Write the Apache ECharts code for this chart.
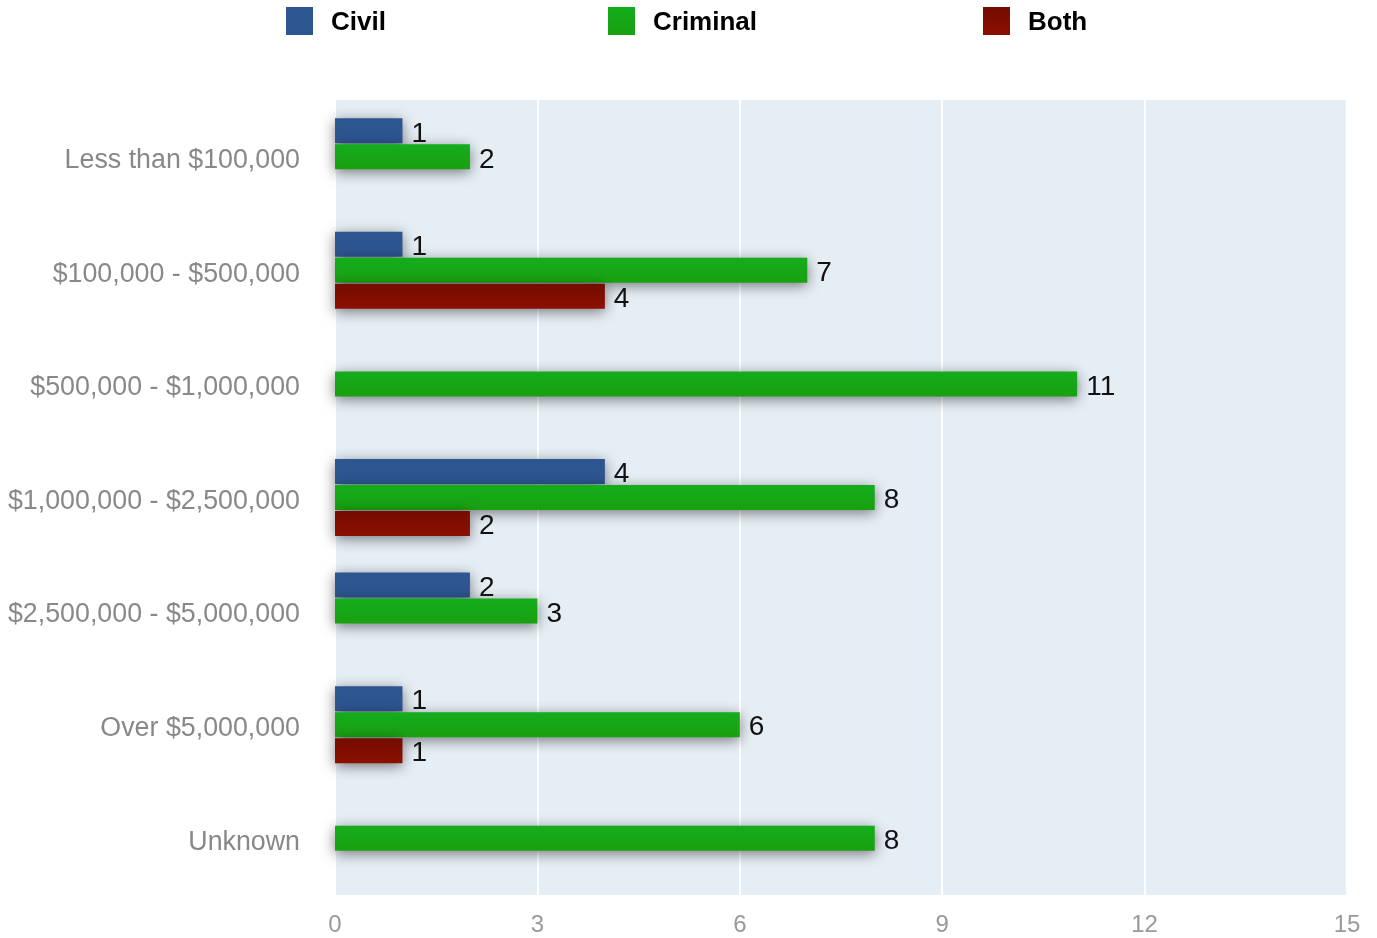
<!DOCTYPE html>
<html>
<head>
<meta charset="utf-8">
<script src="https://cdn.jsdelivr.net/npm/echarts@6/dist/echarts.min.js"></script>
<style>
  html, body { margin: 0; padding: 0; background: #fff; }
  #chart { width: 1377px; height: 938px; }
</style>
</head>
<body>
<div id="chart"></div>
<script>
const categories = ['Less than $100,000', '$100,000 - $500,000', '$500,000 - $1,000,000',
    '$1,000,000 - $2,500,000', '$2,500,000 - $5,000,000', 'Over $5,000,000', 'Unknown'];
const civil = [1, 1, null, 4, 2, 1, null];
const criminal = [2, 7, 11, 8, 3, 6, 8];
const both = [null, 4, null, 2, null, 1, null];
const xTicks = [0, 3, 6, 9, 12, 15];

const FONT = '"Liberation Sans", Arial, sans-serif';
const BLUE = '#2d5590';
const GREEN = new echarts.graphic.LinearGradient(0, 0, 0, 1, [
    { offset: 0, color: '#14ad1c' },
    { offset: 1, color: '#19a010' }
]);
const RED = new echarts.graphic.LinearGradient(0, 0, 0, 1, [
    { offset: 0, color: '#740c00' },
    { offset: 1, color: '#8c1000' }
]);

function barSeries(name, data, color) {
    return {
        name: name,
        type: 'bar',
        data: data,
        barWidth: 25,
        barGap: '4%',
        itemStyle: {
            color: color,
            shadowBlur: 14,
            shadowColor: 'rgba(0,0,0,0.5)',
            shadowOffsetY: 3
        },
        label: {
            show: true,
            position: 'right',
            distance: 9,
            offset: [0, 3],
            color: '#111',
            fontSize: 28,
            fontFamily: FONT
        }
    };
}

function legendAt(name, left) {
    return {
        data: [name],
        top: 2,
        left: left,
        icon: 'rect',
        itemWidth: 27,
        itemHeight: 28,
        selectedMode: false,
        formatter: '{t|{name}}',
        textStyle: {
            fontSize: 26,
            fontWeight: 'bold',
            color: '#000',
            fontFamily: FONT,
            padding: [0, 0, 0, 13],
            rich: {
                t: {
                    fontSize: 26,
                    fontWeight: 'bold',
                    color: '#000',
                    fontFamily: FONT,
                    padding: [4, 0, 0, 0]
                }
            }
        }
    };
}

const option = {
    backgroundColor: '#fff',
    animation: false,
    legend: [legendAt('Civil', 281), legendAt('Criminal', 603), legendAt('Both', 978)],
    grid: {
        left: 335,
        right: 30,
        top: 100,
        bottom: 43,
        show: true,
        backgroundColor: '#e6eef5',
        borderWidth: 0
    },
    xAxis: {
        type: 'value',
        min: xTicks[0],
        max: xTicks[xTicks.length - 1],
        interval: 3,
        axisLine: { show: false },
        axisTick: { show: false },
        axisLabel: {
            fontSize: 24,
            color: '#999',
            fontFamily: FONT,
            margin: 18
        },
        splitLine: {
            lineStyle: { color: '#fff', width: 2 }
        }
    },
    yAxis: {
        type: 'category',
        data: categories,
        inverse: true,
        axisLine: { show: false },
        axisTick: { show: false },
        axisLabel: {
            margin: 35,
            formatter: '{c|{value}}',
            rich: {
                c: {
                    fontSize: 26.8,
                    color: '#888',
                    fontFamily: FONT,
                    padding: [8, 0, 0, 0]
                }
            }
        }
    },
    series: [
        barSeries('Civil', civil, BLUE),
        barSeries('Criminal', criminal, GREEN),
        barSeries('Both', both, RED)
    ]
};

const chart = echarts.init(document.getElementById('chart'));
chart.setOption(option);
</script>
</body>
</html>
